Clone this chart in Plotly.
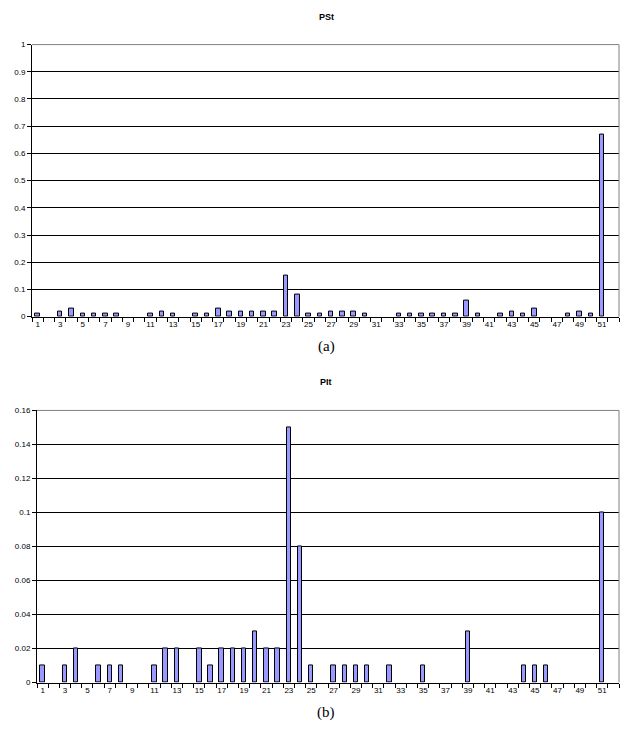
import plotly.graph_objects as go

categories = list(range(1, 53))
pst_values = [0.01, 0, 0.02, 0.03, 0.01, 0.01, 0.01, 0.01, 0, 0,
              0.01, 0.02, 0.01, 0, 0.01, 0.01, 0.03, 0.02, 0.02, 0.02,
              0.02, 0.02, 0.15, 0.08, 0.01, 0.01, 0.02, 0.02, 0.02, 0.01,
              0, 0, 0.01, 0.01, 0.01, 0.01, 0.01, 0.01, 0.06, 0.01,
              0, 0.01, 0.02, 0.01, 0.03, 0, 0, 0.01, 0.02, 0.01,
              0.67, 0]
plt_values = [0.01, 0, 0.01, 0.02, 0, 0.01, 0.01, 0.01, 0, 0,
              0.01, 0.02, 0.02, 0, 0.02, 0.01, 0.02, 0.02, 0.02, 0.03,
              0.02, 0.02, 0.15, 0.08, 0.01, 0, 0.01, 0.01, 0.01, 0.01,
              0, 0.01, 0, 0, 0.01, 0, 0, 0, 0.03, 0,
              0, 0, 0, 0.01, 0.01, 0.01, 0, 0, 0, 0,
              0.1, 0]
x_tick_labels = [str(c) for c in categories if c % 2 == 1]
x_tick_vals = [c for c in categories if c % 2 == 1]
boundaries = [c - 0.5 for c in categories] + [categories[-1] + 0.5]

pst_yticks = [i / 10 for i in range(11)]
pst_ylabels = ["0", "0.1", "0.2", "0.3", "0.4", "0.5", "0.6", "0.7", "0.8", "0.9", "1"]
plt_yticks = [i * 0.02 for i in range(9)]
plt_ylabels = ["0", "0.02", "0.04", "0.06", "0.08", "0.1", "0.12", "0.14", "0.16"]

# page body has an 8px margin; size the figure so the page fits the 635x735 window exactly
OFF = 8
W, H = 635 - 2 * OFF, 735 - 2 * OFF
BAR_FILL = "#9999FF"
font_tick = dict(family="Liberation Sans, Arial", size=8, color="black")


def nz(vals):
    return [v if v != 0 else None for v in vals]


fig = go.Figure()
fig.add_trace(go.Bar(x=categories, y=nz(pst_values), width=0.4,
                     marker=dict(color=BAR_FILL, line=dict(color="black", width=1)),
                     xaxis="x", yaxis="y", showlegend=False))
fig.add_trace(go.Bar(x=categories, y=nz(plt_values), width=0.4,
                     marker=dict(color=BAR_FILL, line=dict(color="black", width=1)),
                     xaxis="x2", yaxis="y2", showlegend=False))


def px_x(p):
    return (p - OFF) / W


def px_y(p):
    return 1 - (p - OFF) / H


top_dom_x = [px_x(32), px_x(619)]
top_dom_y = [px_y(316.5), px_y(41)]
bot_dom_x = [px_x(37), px_x(619)]
bot_dom_y = [px_y(687), px_y(411.5)]
xr = [0.5, 52.5]

fig.update_layout(
    width=W, height=H, margin=dict(l=0, r=0, t=0, b=0),
    paper_bgcolor="white", plot_bgcolor="white",
    bargap=0,
    xaxis=dict(domain=top_dom_x, anchor="y", range=xr, tickvals=x_tick_vals, ticktext=x_tick_labels,
               ticks="", showgrid=False, showline=True, linecolor="black", linewidth=1,
               tickfont=font_tick, zeroline=False),
    yaxis=dict(domain=top_dom_y, anchor="x", range=[0, 1], tickvals=pst_yticks, ticktext=pst_ylabels,
               ticks="outside", ticklen=4, tickcolor="black", showgrid=True, gridcolor="black", gridwidth=1,
               showline=True, linecolor="black", linewidth=1, tickfont=font_tick, zeroline=False),
    xaxis3=dict(overlaying="x", anchor="y", range=xr, tickvals=boundaries, showticklabels=False,
                ticks="outside", ticklen=4, tickcolor="black", showgrid=False, showline=False, zeroline=False),
    xaxis2=dict(domain=bot_dom_x, anchor="y2", range=xr, tickvals=x_tick_vals, ticktext=x_tick_labels,
                ticks="", showgrid=False, showline=True, linecolor="black", linewidth=1,
                tickfont=font_tick, zeroline=False),
    yaxis2=dict(domain=bot_dom_y, anchor="x2", range=[0, 0.16], tickvals=plt_yticks, ticktext=plt_ylabels,
                ticks="outside", ticklen=4, tickcolor="black", showgrid=True, gridcolor="black", gridwidth=1,
                showline=True, linecolor="black", linewidth=1, tickfont=font_tick, zeroline=False),
    xaxis4=dict(overlaying="x2", anchor="y2", range=xr, tickvals=boundaries, showticklabels=False,
                ticks="outside", ticklen=4, tickcolor="black", showgrid=False, showline=False, zeroline=False),
)

# invisible traces to activate overlay axes
fig.add_trace(go.Scatter(x=[categories[0]], y=[0], xaxis="x3", yaxis="y", mode="markers",
                         marker=dict(opacity=0), showlegend=False, hoverinfo="skip"))
fig.add_trace(go.Scatter(x=[categories[0]], y=[0], xaxis="x4", yaxis="y2", mode="markers",
                         marker=dict(opacity=0), showlegend=False, hoverinfo="skip"))

# gray plot-area border (top and right)
for xd, yd in [(top_dom_x, top_dom_y), (bot_dom_x, bot_dom_y)]:
    fig.add_shape(type="line", xref="paper", yref="paper", x0=xd[0], x1=xd[1], y0=yd[1], y1=yd[1],
                  line=dict(color="#808080", width=1))
    fig.add_shape(type="line", xref="paper", yref="paper", x0=xd[1], x1=xd[1], y0=yd[0], y1=yd[1],
                  line=dict(color="#808080", width=1))

ann = dict(xref="paper", yref="paper", showarrow=False, xanchor="center", yanchor="middle")
fig.add_annotation(text="<b>PSt</b>", x=px_x(326), y=px_y(13), **ann,
                   font=dict(family="Liberation Sans, Arial", size=9, color="black"))
fig.add_annotation(text="<b>PIt</b>", x=px_x(326), y=px_y(383), **ann,
                   font=dict(family="Liberation Sans, Arial", size=9, color="black"))
fig.add_annotation(text="(a)", x=px_x(326), y=px_y(347), **ann,
                   font=dict(family="Liberation Serif, Times New Roman", size=15, color="black"))
fig.add_annotation(text="(b)", x=px_x(326), y=px_y(717), **ann,
                   font=dict(family="Liberation Serif, Times New Roman", size=15, color="black"))

fig.write_html("out.html")
